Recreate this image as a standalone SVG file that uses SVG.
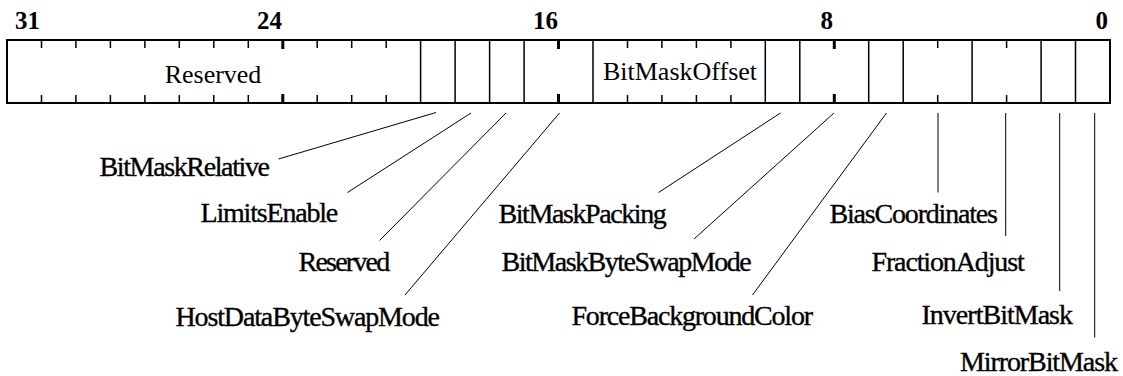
<svg xmlns="http://www.w3.org/2000/svg" width="1123" height="376" viewBox="0 0 1123 376">
<style>
.num{font-family:"Liberation Serif","Times New Roman",serif;font-weight:bold;font-size:25px;fill:#000;text-anchor:end}
.in{font-family:"Liberation Serif","Times New Roman",serif;font-size:26px;fill:#000;text-anchor:middle}
.lbl{font-family:"Liberation Serif","Times New Roman",serif;font-size:28px;fill:#000;stroke:#000;stroke-width:0.35}
.box{fill:#fff;stroke:#000;stroke-width:2}
.div{stroke:#000;stroke-width:1.5}
.tk{stroke:#000;stroke-width:1.5}
.btk{stroke:#000;stroke-width:3}
.con{stroke:#000;stroke-width:1;fill:none}
</style>
<rect width="1123" height="376" fill="#fff"/>
<g id="bitnumbers">
<text class="num" x="40" y="29">31</text>
<text class="num" x="282" y="29">24</text>
<text class="num" x="558" y="29">16</text>
<text class="num" x="833" y="29">8</text>
<text class="num" x="1108" y="29">0</text>
</g>
<g id="register">
<rect class="box" x="7" y="40" width="1103" height="63"/>
<g id="ticks">
<path class="tk" d="M41.5 40v8M41.5 103v-8M75.9 40v8M75.9 103v-8M110.4 40v8M110.4 103v-8M144.9 40v8M144.9 103v-8M179.3 40v8M179.3 103v-8M213.8 40v8M213.8 103v-8M248.3 40v8M248.3 103v-8M317.2 40v8M317.2 103v-8M351.7 40v8M351.7 103v-8M386.2 40v8M386.2 103v-8M627.5 40v8M627.5 103v-8M661.9 40v8M661.9 103v-8M696.4 40v8M696.4 103v-8M730.9 40v8M730.9 103v-8M937.7 40v8M937.7 103v-8M1006.6 40v8M1006.6 103v-8"/>
<path class="btk" d="M282.8 40v9M282.8 103v-9M558.5 40v9M558.5 103v-9M834.3 40v9M834.3 103v-9"/>
</g>
<g id="dividers">
<path class="div" d="M420.6 40v63M455.1 40v63M489.6 40v63M524.1 40v63M593 40v63M765.3 40v63M799.8 40v63M868.7 40v63M903.2 40v63M972.1 40v63M1041.1 40v63M1075.5 40v63"/>
</g>
<g id="field-reserved-hi"><text class="in" x="213" y="83">Reserved</text></g>
<g id="field-bitmaskoffset"><text class="in" x="680" y="80">BitMaskOffset</text></g>
</g>
<g id="connectors">
<line class="con" x1="436" y1="112.5" x2="278.5" y2="159"/>
<line class="con" x1="471" y1="113" x2="347.5" y2="192.5"/>
<line class="con" x1="506" y1="113" x2="379.5" y2="240.5"/>
<line class="con" x1="559.5" y1="113" x2="405" y2="295"/>
<line class="con" x1="780.5" y1="113" x2="658.5" y2="192.5"/>
<line class="con" x1="834" y1="113" x2="694" y2="239"/>
<line class="con" x1="886.5" y1="113" x2="752.5" y2="295"/>
<line class="con" x1="938" y1="113" x2="938" y2="192.5"/>
<line class="con" x1="1005.7" y1="113" x2="1005.7" y2="236"/>
<line class="con" x1="1059.7" y1="113" x2="1059.7" y2="291"/>
<line class="con" x1="1094.7" y1="113" x2="1094.7" y2="337.5"/>
</g>
<g id="label-bitmaskrelative"><text class="lbl" x="99.5" y="176" textLength="170.5" lengthAdjust="spacing">BitMaskRelative</text></g>
<g id="label-limitsenable"><text class="lbl" x="200.5" y="222" textLength="137.8" lengthAdjust="spacing">LimitsEnable</text></g>
<g id="label-reserved"><text class="lbl" x="298.5" y="270.5" textLength="91.7" lengthAdjust="spacing">Reserved</text></g>
<g id="label-hostdatabyteswapmode"><text class="lbl" x="175.5" y="326" textLength="264.5" lengthAdjust="spacing">HostDataByteSwapMode</text></g>
<g id="label-bitmaskpacking"><text class="lbl" x="498.5" y="223" textLength="168.2" lengthAdjust="spacing">BitMaskPacking</text></g>
<g id="label-bitmaskbyteswapmode"><text class="lbl" x="501.5" y="270.5" textLength="250.2" lengthAdjust="spacing">BitMaskByteSwapMode</text></g>
<g id="label-forcebackgroundcolor"><text class="lbl" x="571.5" y="325" textLength="241.5" lengthAdjust="spacing">ForceBackgroundColor</text></g>
<g id="label-biascoordinates"><text class="lbl" x="829.5" y="223" textLength="168.5" lengthAdjust="spacing">BiasCoordinates</text></g>
<g id="label-fractionadjust"><text class="lbl" x="871.5" y="270.5" textLength="153.2" lengthAdjust="spacing">FractionAdjust</text></g>
<g id="label-invertbitmask"><text class="lbl" x="921.5" y="324" textLength="151.5" lengthAdjust="spacing">InvertBitMask</text></g>
<g id="label-mirrorbitmask"><text class="lbl" x="960" y="370.5" textLength="158" lengthAdjust="spacing">MirrorBitMask</text></g>
</svg>
